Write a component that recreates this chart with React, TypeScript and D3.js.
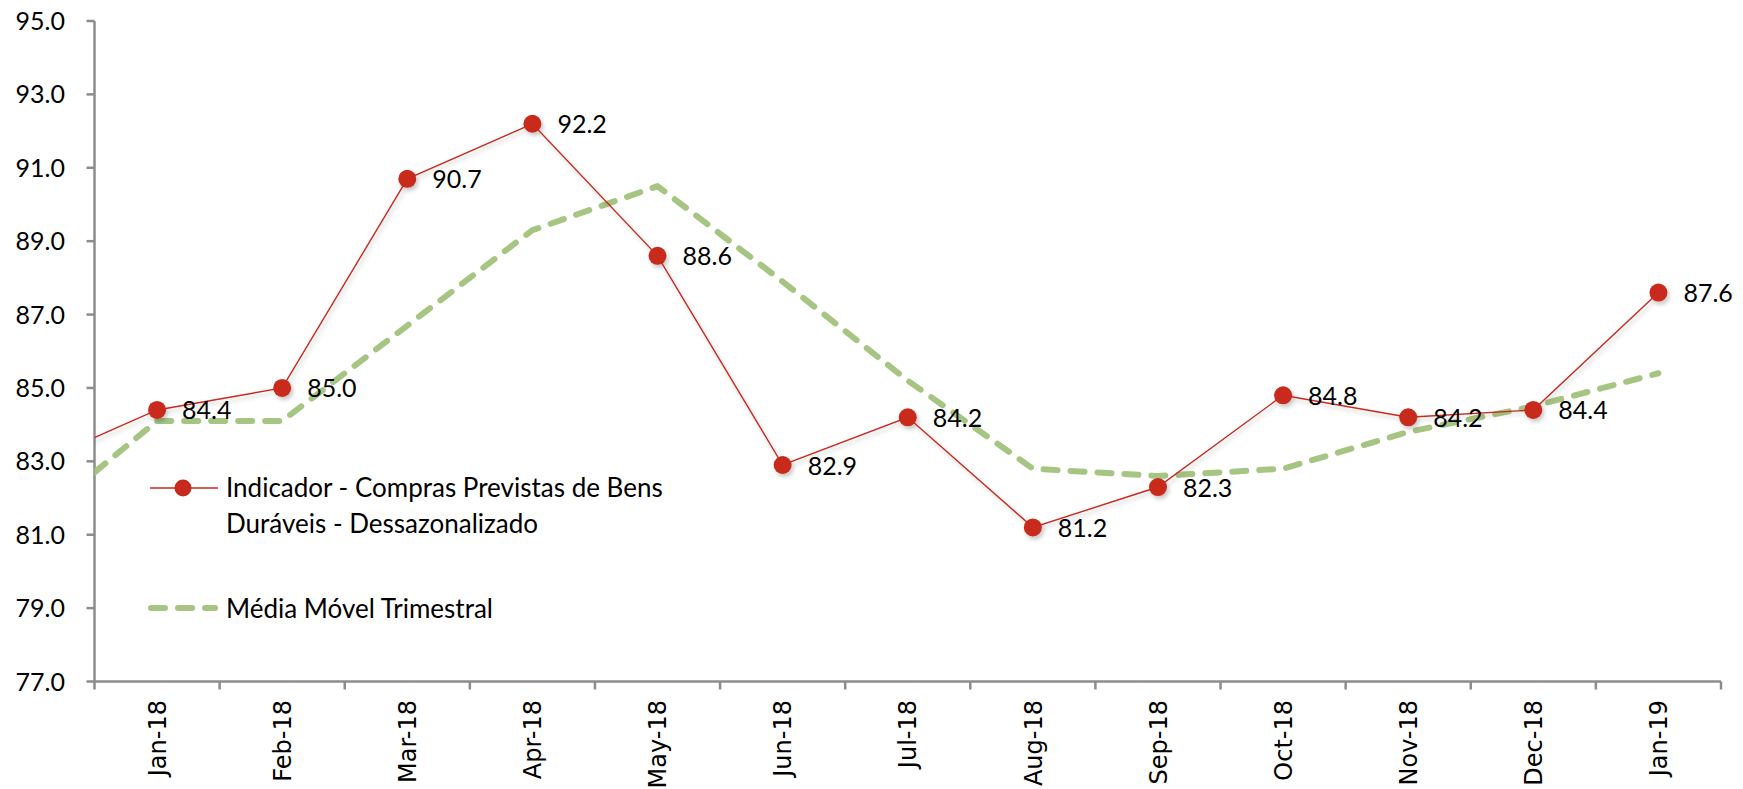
import * as d3 from 'd3';

const months = ['Jan-18', 'Feb-18', 'Mar-18', 'Apr-18', 'May-18', 'Jun-18', 'Jul-18', 'Aug-18', 'Sep-18', 'Oct-18', 'Nov-18', 'Dec-18', 'Jan-19'];
const indicador = [84.4, 85.0, 90.7, 92.2, 88.6, 82.9, 84.2, 81.2, 82.3, 84.8, 84.2, 84.4, 87.6];
const mediaMovel = [84.1, 84.1, 86.7, 89.3, 90.5, 87.9, 85.2, 82.8, 82.6, 82.8, 83.8, 84.5, 85.4];
// Dec-17 values, only the piece inside the plot is visible
const indicadorPrev = 82.9;
const mediaMovelPrev = 81.3;
const yTicks = [77, 79, 81, 83, 85, 87, 89, 91, 93, 95];

const W = 1743;
const H = 789;
const left = 94.5;
const right = 1721;
const top = 21;
const bottom = 681.5;

const RED = '#C8291D';
const GREEN = '#A6C583';
const AXIS = '#8C8C8C';
const NUM_FONT = 'Lato, "Open Sans", sans-serif';

export default function App() {
  const x = d3.scaleLinear().domain([-0.5, months.length - 0.5]).range([left, right]);
  const y = d3.scaleLinear().domain([77, 95]).range([bottom, top]);

  const redPts: [number, number][] = [[-1, indicadorPrev], ...indicador.map((v, i) => [i, v] as [number, number])];
  const greenPts: [number, number][] = [[-1, mediaMovelPrev], ...mediaMovel.map((v, i) => [i, v] as [number, number])];

  const line = d3.line<[number, number]>().x((d) => x(d[0])).y((d) => y(d[1]));

  const boundaries = d3.range(months.length + 1).map((i) => i - 0.5);

  return (
    <svg width={W} height={H} style={{ position: 'absolute', left: 0, top: 0, background: '#fff' }}>
      <defs>
        <clipPath id="plot">
          <rect x={left} y={0} width={right - left + 30} height={bottom} />
        </clipPath>
        <filter id="shadow" x="-10%" y="-10%" width="130%" height="130%">
          <feDropShadow dx="2" dy="3" stdDeviation="2" floodColor="#000" floodOpacity="0.22" />
        </filter>
      </defs>

      {/* y axis */}
      <line x1={left} x2={left} y1={top} y2={bottom} stroke={AXIS} strokeWidth={2.5} />
      {yTicks.map((t) => (
        <g key={t}>
          <line x1={left - 8} x2={left} y1={y(t)} y2={y(t)} stroke={AXIS} strokeWidth={2.5} />
          <text x={65} y={y(t)} dy="0.36em" textAnchor="end" fontFamily={NUM_FONT} fontSize={25} fill="#000">
            {t.toFixed(1)}
          </text>
        </g>
      ))}

      {/* x axis */}
      <line x1={left} x2={right} y1={bottom} y2={bottom} stroke={AXIS} strokeWidth={2.5} />
      {boundaries.map((b) => (
        <line key={b} x1={x(b)} x2={x(b)} y1={bottom} y2={bottom + 8} stroke={AXIS} strokeWidth={2.5} />
      ))}
      {months.map((m, i) => (
        <text
          key={m}
          transform={`translate(${x(i)},700) rotate(-90)`}
          dy="0.36em"
          textAnchor="end"
          fontFamily='"DejaVu Sans", sans-serif'
          fontSize={24}
          fill="#000"
        >
          {m}
        </text>
      ))}

      {/* series */}
      <g clipPath="url(#plot)">
        <path
          d={line(greenPts) || ''}
          fill="none"
          stroke={GREEN}
          strokeWidth={6}
          strokeDasharray="14,13"
          strokeLinecap="round"
          strokeLinejoin="round"
        />
        <g filter="url(#shadow)">
          <path d={line(redPts) || ''} fill="none" stroke={RED} strokeWidth={1.4} />
          {indicador.map((v, i) => (
            <circle key={i} cx={x(i)} cy={y(v)} r={9} fill={RED} />
          ))}
        </g>
      </g>

      {indicador.map((v, i) => (
        <text key={i} x={x(i) + 25} y={y(v)} dy="0.38em" fontFamily={NUM_FONT} fontSize={25} fill="#000">
          {v.toFixed(1)}
        </text>
      ))}

      {/* legend */}
      <g fontFamily={NUM_FONT} fontSize={26} fill="#000">
        <line x1={150} x2={218} y1={488} y2={488} stroke={RED} strokeWidth={1.4} />
        <circle cx={183} cy={488} r={8.5} fill={RED} />
        <text x={226} y={497}>Indicador - Compras Previstas de Bens</text>
        <text x={226} y={533}>Duráveis - Dessazonalizado</text>
        <line
          x1={151}
          x2={215}
          y1={608}
          y2={608}
          stroke={GREEN}
          strokeWidth={6}
          strokeDasharray="14,13"
          strokeLinecap="round"
        />
        <text x={226} y={618}>Média Móvel Trimestral</text>
      </g>
    </svg>
  );
}
